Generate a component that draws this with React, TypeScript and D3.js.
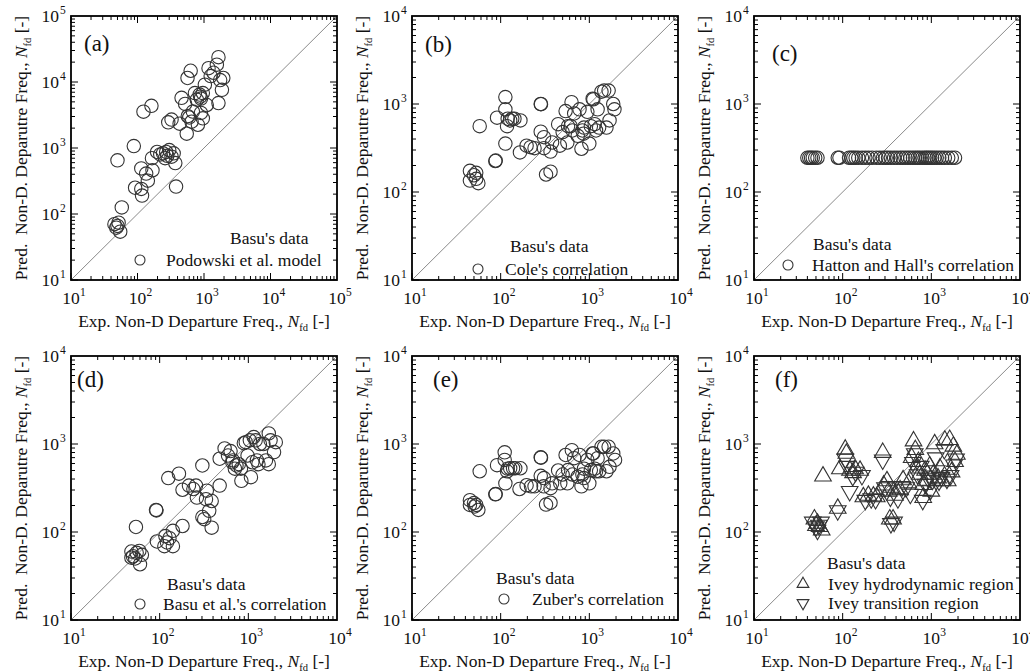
import React from "react";
import * as d3 from "d3";

const FONT = "'Liberation Serif', 'Times New Roman', serif";

// (a) Podowski et al. model: [experimental, predicted]
const podowski: [number, number][] = [
  [45, 70], [48, 62], [52, 74], [50, 66], [55, 54], [58, 126], [50, 650], [88, 1070],
  [162, 4350], [123, 3550], [92, 250], [114, 490], [114, 240], [117, 190], [135, 410],
  [143, 320], [168, 460], [197, 870], [165, 700], [242, 830], [270, 870], [300, 930],
  [325, 740], [350, 830], [370, 590], [380, 260], [290, 2450], [325, 2700], [430, 2340],
  [460, 5750], [520, 4650], [550, 1650], [565, 11500], [630, 14800], [570, 3030],
  [650, 2500], [730, 6800], [810, 2250], [860, 6450], [880, 6000], [900, 5600],
  [960, 6800], [1030, 9100], [1100, 4480], [1170, 16200], [1260, 12300], [1390, 13800],
  [1560, 18300], [1650, 23800], [1750, 10700], [1650, 4800], [1950, 11500], [1860, 7600],
  [900, 3400], [960, 2820], [680, 3560], [780, 5400], [220, 800], [260, 700], [280, 760],
  [600, 2900],
];

// (b) Cole's correlation
const cole: [number, number][] = [
  [45, 174], [45, 135], [50, 155], [53, 165], [56, 126], [53, 141], [58, 560], [87, 225],
  [88, 228], [91, 700], [113, 1200], [113, 870], [113, 355], [118, 560], [120, 680],
  [128, 650], [135, 680], [143, 680], [167, 650], [165, 282], [196, 336], [217, 323],
  [241, 315], [283, 485], [283, 1000], [285, 995], [308, 420], [308, 315], [325, 158],
  [365, 170], [380, 365], [365, 288], [445, 590], [465, 336], [500, 480], [540, 830],
  [565, 365], [575, 560], [615, 560], [630, 1050], [645, 500], [675, 780], [740, 435],
  [775, 870], [815, 310], [835, 500], [860, 460], [870, 540], [950, 815], [1000, 355],
  [1040, 560], [1090, 1150], [1110, 1130], [1150, 590], [1190, 500], [1240, 870],
  [1290, 540], [1370, 1380], [1470, 1420], [1650, 1420], [1690, 650], [1560, 540],
  [1860, 1000], [1920, 870],
];

// (c) Hatton and Hall's correlation (constant prediction)
const hattonX: number[] = [
  40, 42, 44, 46, 49, 52, 88, 92, 118, 125, 132, 140, 150, 165, 180, 196, 215, 240, 262,
  285, 305, 325, 350, 380, 410, 445, 475, 510, 545, 580, 620, 660, 700, 740, 790, 840,
  880, 920, 970, 1020, 1080, 1150, 1230, 1320, 1420, 1550, 1700, 1850,
];
const hattonY = 245;

// (d) Basu et al.'s correlation
const basu: [number, number][] = [
  [48, 60], [48, 51], [53, 50], [55, 58], [59, 61], [60, 43], [54, 114], [63, 55],
  [50, 53], [93, 78], [91, 178], [92, 176], [116, 90], [113, 69], [121, 76], [129, 85],
  [141, 69], [141, 103], [125, 410], [165, 460], [181, 117], [181, 302], [214, 337],
  [240, 308], [257, 337], [263, 246], [303, 570], [303, 148], [318, 140], [333, 236],
  [340, 295], [362, 174], [386, 225], [386, 112], [475, 337], [475, 680], [540, 890],
  [590, 740], [630, 830], [660, 620], [670, 650], [705, 525], [735, 570], [780, 590],
  [825, 525], [835, 382], [890, 1020], [935, 1050], [980, 740], [1040, 1100],
  [1070, 420], [1110, 620], [1150, 1200], [1210, 1100], [1250, 650], [1300, 590],
  [1350, 1000], [1480, 1000], [1580, 650], [1700, 1320], [1780, 1100], [1950, 810],
  [2040, 1050], [1700, 590],
];

// (e) Zuber's correlation
const zuber: [number, number][] = [
  [45, 230], [45, 203], [50, 213], [53, 203], [56, 178], [51, 195], [58, 490], [87, 268],
  [88, 270], [91, 575], [111, 805], [111, 660], [113, 357], [118, 490], [120, 525],
  [128, 530], [138, 530], [146, 530], [167, 530], [163, 308], [196, 340], [220, 330],
  [241, 330], [283, 435], [283, 705], [285, 700], [308, 410], [305, 330], [325, 205],
  [365, 215], [380, 357], [365, 315], [445, 500], [470, 357], [500, 450], [540, 750],
  [565, 357], [575, 505], [635, 850], [645, 450], [675, 690], [740, 425], [775, 750],
  [815, 330], [835, 450], [865, 410], [870, 525], [950, 660], [1000, 357], [1040, 505],
  [1090, 780], [1110, 780], [1150, 525], [1190, 490], [1240, 690], [1290, 490],
  [1370, 930], [1470, 930], [1650, 930], [1690, 550], [1560, 490], [1860, 780],
  [1950, 660],
];

// (f) Ivey hydrodynamic region (up) and transition region (down)
const iveyHydro: [number, number][] = [
  [48, 140], [52, 125], [55, 115], [58, 105], [50, 118], [60, 430], [88, 185], [93, 520],
  [107, 870], [110, 780], [121, 500], [131, 470], [138, 520], [157, 500], [171, 250],
  [195, 260], [222, 255], [242, 250], [283, 800], [290, 340], [316, 380], [330, 290],
  [340, 140], [370, 140], [389, 260], [445, 300], [480, 390], [550, 360], [600, 700],
  [630, 1080], [660, 860], [680, 530], [715, 630], [740, 450], [810, 345], [810, 245],
  [850, 500], [890, 380], [960, 560], [1000, 290], [1050, 450], [1090, 1000],
  [1190, 410], [1250, 530], [1310, 380], [1420, 1100], [1610, 1120], [1690, 480],
  [1770, 940], [1850, 630], [1940, 760], [1530, 380],
];
const iveyTrans: [number, number][] = [
  [46, 130], [50, 115], [54, 120], [57, 130], [52, 105], [88, 175], [107, 680],
  [112, 560], [120, 290], [130, 430], [140, 480], [165, 440], [180, 230], [210, 240],
  [235, 235], [283, 660], [300, 320], [330, 330], [345, 250], [350, 125], [380, 130],
  [420, 240], [470, 330], [520, 320], [580, 270], [620, 620], [650, 780], [700, 450],
  [760, 560], [800, 230], [860, 350], [920, 410], [980, 300], [1030, 390], [1120, 700],
  [1150, 500], [1220, 380], [1300, 420], [1400, 870], [1500, 400], [1650, 440],
  [1800, 580], [1900, 680],
];

const legendTitle = "Basu's data";
const xTitle = "Exp. Non-D Departure Freq., ";
const yTitle = "Pred.\u00A0 Non-D. Deparutre Freq., ";

type Sym = "circle" | "up" | "down";
interface Series { pts: [number, number][]; sym: Sym; label: string }
interface PanelCfg {
  left: number; top: number; maxExp: number; letter: string;
  letterX: number; letterY: number;
  series: Series[];
  lg: { tx: number; ty: number; mx: number; lx: number; rows: number[] };
}

const W = 266, H = 264;
const COLS = [71, 412, 754];
const ROWS = [16, 356];
const FS = 17.5;

const panels: PanelCfg[] = [
  { left: COLS[0], top: ROWS[0], maxExp: 5, letter: "(a)", letterX: 13, letterY: 35,
    series: [{ pts: podowski, sym: "circle", label: "Podowski et al. model" }],
    lg: { tx: 159, ty: 228, mx: 69, lx: 95, rows: [244] } },
  { left: COLS[1], top: ROWS[0], maxExp: 4, letter: "(b)", letterX: 13, letterY: 36,
    series: [{ pts: cole, sym: "circle", label: "Cole's correlation" }],
    lg: { tx: 98, ty: 236, mx: 66, lx: 93, rows: [253] } },
  { left: COLS[2], top: ROWS[0], maxExp: 4, letter: "(c)", letterX: 18, letterY: 45,
    series: [{ pts: hattonX.map((x) => [x, hattonY] as [number, number]), sym: "circle", label: "Hatton and Hall's correlation" }],
    lg: { tx: 59, ty: 234, mx: 34, lx: 58, rows: [249] } },
  { left: COLS[0], top: ROWS[1], maxExp: 4, letter: "(d)", letterX: 6, letterY: 31,
    series: [{ pts: basu, sym: "circle", label: "Basu et al.'s correlation" }],
    lg: { tx: 96, ty: 234, mx: 69, lx: 92, rows: [248] } },
  { left: COLS[1], top: ROWS[1], maxExp: 4, letter: "(e)", letterX: 21, letterY: 31,
    series: [{ pts: zuber, sym: "circle", label: "Zuber's correlation" }],
    lg: { tx: 84, ty: 228, mx: 92, lx: 120, rows: [243] } },
  { left: COLS[2], top: ROWS[1], maxExp: 4, letter: "(f)", letterX: 21, letterY: 31,
    series: [
      { pts: iveyHydro, sym: "up", label: "Ivey hydrodynamic region" },
      { pts: iveyTrans, sym: "down", label: "Ivey transition region" },
    ],
    lg: { tx: 73, ty: 213, mx: 49, lx: 74, rows: [228, 247] } },
];

const MARK = "#333";
const triPath = d3.symbol(d3.symbolTriangle, 120)() as string;
const triPathSmall = d3.symbol(d3.symbolTriangle, 60)() as string;

function Marker({ sym, x, y, small }: { sym: Sym; x: number; y: number; small?: boolean }) {
  if (sym === "circle") {
    return <circle cx={x} cy={y} r={small ? 5 : 6.7} fill="none" stroke={MARK} strokeWidth={1.1} />;
  }
  const p = small ? triPathSmall : triPath;
  return (
    <path d={p} transform={`translate(${x},${y})${sym === "down" ? " rotate(180)" : ""}`}
      fill="none" stroke={MARK} strokeWidth={1.1} />
  );
}

function Panel({ cfg }: { cfg: PanelCfg }) {
  const { left, top, maxExp } = cfg;
  const x = d3.scaleLog().domain([10, Math.pow(10, maxExp)]).range([left, left + W]);
  const y = d3.scaleLog().domain([10, Math.pow(10, maxExp)]).range([top + H, top]);
  const exps = d3.range(1, maxExp + 1);
  const ticks: { v: number; major: boolean }[] = [];
  for (let e = 1; e < maxExp; e++) {
    for (let m = 1; m <= 9; m++) ticks.push({ v: m * Math.pow(10, e), major: m === 1 });
  }
  const bottom = top + H, right = left + W;
  const maj = 7, min = 4;
  const cx = left + W / 2, cy = top + H / 2;
  return (
    <g>
      <line x1={x(10)} y1={y(10)} x2={x(Math.pow(10, maxExp))} y2={y(Math.pow(10, maxExp))}
        stroke="#8a8a8a" strokeWidth={1} />
      {cfg.series.map((s, si) => (
        <g key={si}>
          {s.pts.map((d, i) => (
            <Marker key={i} sym={s.sym} x={x(d[0])} y={y(d[1])} />
          ))}
        </g>
      ))}
      {ticks.map((t, i) => {
        const L = t.major ? maj : min;
        const px = x(t.v), py = y(t.v);
        return (
          <g key={i} stroke="#000" strokeWidth={1}>
            <line x1={px} x2={px} y1={bottom} y2={bottom - L} />
            <line x1={px} x2={px} y1={top} y2={top + L} />
            <line x1={left} x2={left + L} y1={py} y2={py} />
            <line x1={right} x2={right - L} y1={py} y2={py} />
          </g>
        );
      })}
      <rect x={left} y={top} width={W} height={H} fill="none" stroke="#000" strokeWidth={1.8} />
      {exps.map((e) => (
        <g key={e} fontFamily={FONT} fill="#111">
          <text x={x(Math.pow(10, e))} y={bottom + 24} fontSize={FS} textAnchor="middle">10</text>
          <text x={x(Math.pow(10, e)) + 9} y={bottom + 16} fontSize={11.5}>{e}</text>
          <text x={left - 12} y={y(Math.pow(10, e)) + 6} fontSize={FS} textAnchor="end">10</text>
          <text x={left - 11} y={y(Math.pow(10, e)) - 2} fontSize={11.5}>{e}</text>
        </g>
      ))}
      <text x={cx} y={bottom + 47} fontFamily={FONT} fontSize={FS} textAnchor="middle" fill="#111">
        {xTitle}
        <tspan fontStyle="italic">N</tspan>
        <tspan fontSize={10.5} dy={4}>fd</tspan>
        <tspan dy={-4}> [-]</tspan>
      </text>
      <text transform={`translate(${left - 44},${cy}) rotate(-90)`} fontFamily={FONT} fontSize={FS}
        textAnchor="middle" fill="#111">
        {yTitle}
        <tspan fontStyle="italic">N</tspan>
        <tspan fontSize={10.5} dy={4}>fd</tspan>
        <tspan dy={-4}> [-]</tspan>
      </text>
      <text x={left + cfg.letterX} y={top + cfg.letterY} fontFamily={FONT} fontSize={23} fill="#111">
        {cfg.letter}
      </text>
      <text x={left + cfg.lg.tx} y={top + cfg.lg.ty} fontFamily={FONT} fontSize={FS} fill="#111">
        {legendTitle}
      </text>
      {cfg.series.map((s, i) => (
        <g key={i}>
          <Marker sym={s.sym} x={left + cfg.lg.mx} y={top + cfg.lg.rows[i]} small />
          <text x={left + cfg.lg.lx} y={top + cfg.lg.rows[i] + 6} fontFamily={FONT} fontSize={FS} fill="#111">
            {s.label}
          </text>
        </g>
      ))}
    </g>
  );
}

export default function App() {
  return (
    <svg width={1030} height={672} style={{ position: "absolute", left: 0, top: 0, background: "#fff" }}>
      <rect width={1030} height={672} fill="#fff" />
      {panels.map((p, i) => (
        <Panel key={i} cfg={p} />
      ))}
    </svg>
  );
}
